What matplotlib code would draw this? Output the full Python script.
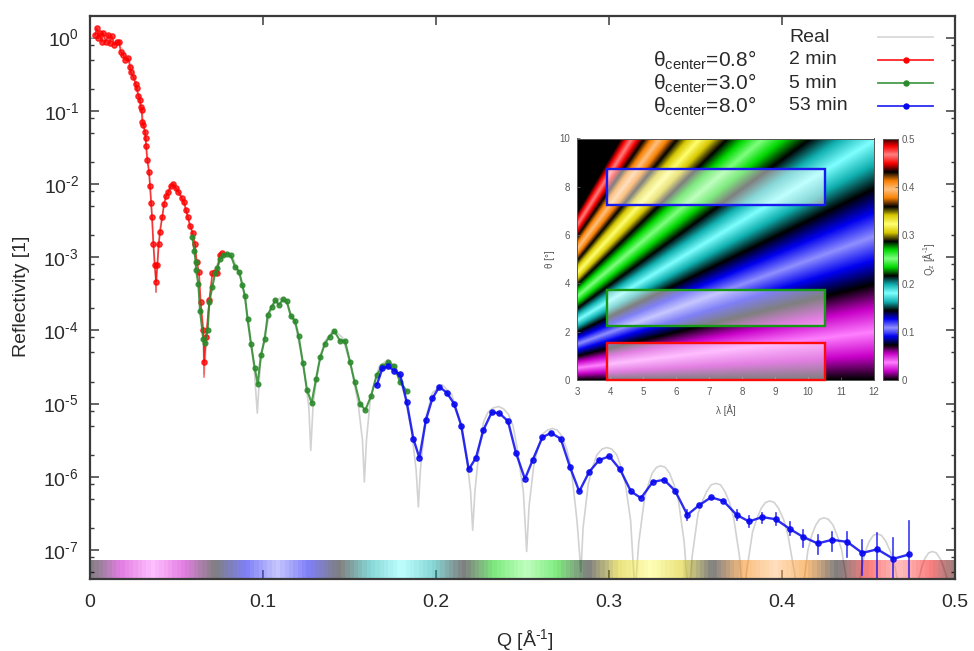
#!/usr/bin/env python3
"""Reflectivity curve with the theta/lambda coverage map as inset."""
import numpy as np
import matplotlib

matplotlib.use("Agg")
import matplotlib.pyplot as plt
from matplotlib.colors import LinearSegmentedColormap
from matplotlib.lines import Line2D
from matplotlib.patches import Rectangle
from matplotlib.ticker import LogLocator, NullFormatter

plt.rcParams["font.family"] = ["Liberation Sans", "DejaVu Sans"]
plt.rcParams["mathtext.fontset"] = "custom"
plt.rcParams["mathtext.rm"] = "Liberation Sans"
plt.rcParams["mathtext.default"] = "regular"

# all reflectivities are log10(R)
real_q = [0, .005, .01, .015, .02, .025, .03, .034, .036, .0375, .0382, .039, .0405, .043, .048, .053, .058,
          .0625, .065, .0661, .0675, .069, .072, .075, .079, .083, .088, .092, .095, .0967, .0985, .101, .105,
          .1095, .114, .119, .1235, .1265, .1276, .129, .132, .136, .141, .146, .151, .155, .1575, .1586, .1598,
          .162, .167, .172, .177, .182, .186, .1885, .1898, .191, .194, .198, .2035, .209, .214, .218, .22,
          .2212, .2225, .225, .2275, .23, .233, .236, .239, .242, .2445, .2465, .2505, .2524, .2538, .2565,
          .259, .2615, .2645, .2672, .27, .273, .2755, .278,
          .2815, .2838, .285, .288, .2905, .293, .296, .2987, .3015, .3045, .307, .3095, .3125, .315, .3172, .3205,
          .3228, .325, .3275, .3299, .3325, .335, .3375, .34, .3435, .3459, .348, .3515, .354, .3565, .359, .3617,
          .3645, .367, .3695, .372, .3755, .3775, .3795, .383, .3855, .388, .3905, .3931, .3955,
          .398, .401, .4035, .4075, .4098, .412, .415, .4172, .4195, .4218, .4243, .4268, .4295, .432, .4345,
          .4385, .4406, .443, .446, .448, .4505, .4528, .4551, .4575, .46, .4628, .4655, .4695, .4728, .476,
          .4785, .4805, .4825, .4847, .4869, .4892, .4915, .4935, .4955, .4985, .5]
real_r = [0, 0, -.02, -.06, -.19, -.42, -.98, -1.75, -2.45, -3.1, -3.47, -3.1, -2.6, -2.27, -1.98, -2.17, -2.55,
          -3.3, -4.0, -4.6, -4.1, -3.55, -3.2, -3.0, -2.93, -3.03, -3.35, -3.95, -4.55, -5.13, -4.45, -4.05, -3.68,
          -3.56, -3.63, -3.95, -4.5, -5.05, -5.64, -5.0, -4.5, -4.14, -3.99, -4.1, -4.5, -5.0, -5.5, -6.07, -5.5,
          -4.95, -4.5, -4.4, -4.5, -4.9, -5.4, -5.9, -6.41, -5.9, -5.2, -4.85, -4.74, -4.87, -5.25, -5.8, -6.2,
          -6.73, -6.2, -5.6, -5.25, -5.12, -5.06, -5.04, -5.07, -5.15, -5.3, -5.55, -6.2, -7.02, -6.4, -5.85,
          -5.6, -5.42, -5.36, -5.34, -5.36, -5.45, -5.62, -5.85,
          -6.6, -7.3, -6.7, -6.1, -5.87, -5.7, -5.62, -5.6, -5.62, -5.7, -5.87, -6.1, -6.6, -7.6, -6.9, -6.3,
          -6.1, -5.95, -5.87, -5.85, -5.87, -5.95, -6.1, -6.3, -6.9, -7.7, -7.1, -6.5, -6.33, -6.2, -6.11, -6.09,
          -6.11, -6.2, -6.34, -6.55, -7.1, -7.8, -7.3, -6.75, -6.57, -6.43, -6.35, -6.33, -6.35,
          -6.43, -6.59, -6.8, -7.35, -8.0, -7.55, -7.0, -6.8, -6.66, -6.58, -6.56, -6.58, -6.66, -6.81, -7.0,
          -7.6, -8.2, -7.8, -7.25, -7.03, -6.88, -6.8, -6.78, -6.8, -6.88, -7.03, -7.25, -7.8, -8.4, -8.0,
          -7.45, -7.26, -7.12, -7.04, -7.02, -7.04, -7.12, -7.24, -7.4, -7.9, -8.3]

red_q = [.0029, .0039, .0048, .0058, .0068, .0077, .0092, .0106, .0116, .0125, .0141, .0154, .0169, .0177, .0193,
         .0202, .0221, .0231, .0235, .025, .0264, .027, .0279, .0289, .0292, .0299, .0302, .0308, .0318, .0322,
         .0324, .0331, .0341, .0347, .0353, .0358, .0366, .0374, .0382, .0389, .0397, .0405, .0418, .0428, .0439,
         .0453, .0466, .0482, .0495, .051, .053, .0543, .0555, .0565, .0578, .0594, .0607, .0617, .063, .064,
         .0655, .0661, .0671, .069, .0707, .0723, .0732, .0751, .0765]
red_r = [.036, .127, -.01, .059, -.056, .059, -.056, .036, -.078, .022, -.101, -.056, -.064, -.193, -.238,
         -.306, -.283, -.397, -.465, -.534, -.634, -.693, -.798, -.852, -.952, -.989, -1.149, -1.194, -1.285, -1.376,
         -1.481, -1.672, -1.84, -2.027, -2.255, -2.447, -2.824, -3.107, -3.335, -3.107, -2.824, -2.651, -2.447,
         -2.273, -2.164, -2.105, -2.027, -2.0, -2.059, -2.105, -2.195, -2.241, -2.355, -2.447, -2.574, -2.665,
         -2.82, -3.06, -3.2, -3.61, -3.995, -4.43, -4.09, -3.585, -3.22, -3.2, -3.22, -2.97, -2.947]
red_err_q = [.0382, .0661]
red_err_lo = [-3.47, -4.63]
red_err_hi = [-3.2, -4.17]

green_q = [.0592, .0603, .0611, .0613, .0626, .0636, .0655, .0663, .068, .069, .0707, .0723, .0736, .0751, .0767,
           .079, .0813, .0838, .0863, .088, .0896, .0911, .0931, .0952, .0969, .0988, .101, .1027, .105, .1071,
           .1092, .1116, .1137, .116, .1185, .1206, .1231, .1254, .1281, .1306, .1331, .1358, .1385, .1412, .1445,
           .1474, .1503, .153, .1561, .1591, .1624, .1657, .169, .1724, .1757, .1792, .1831]
green_r = [-2.72, -2.91, -3.06, -3.175, -3.36, -3.735, -4.12, -4.176, -4.0, -3.61, -3.41, -3.22, -3.15, -3.03, -2.97,
           -2.956, -2.97, -3.13, -3.2, -3.38, -3.53, -3.85, -4.19, -4.51, -4.73, -4.34, -4.12, -3.79, -3.68, -3.585,
           -3.65, -3.575, -3.6, -3.8, -3.87, -4.08, -4.45, -4.81, -4.99, -4.67, -4.36, -4.18, -4.085, -4.01, -4.14,
           -4.145, -4.43, -4.71, -5.0, -5.09, -4.9, -4.61, -4.49, -4.43, -4.49, -4.7, -4.83]

blue_q = [.1657, .169, .1724, .1757, .1792, .1831, .1869, .1904, .1942, .1979, .2019, .2062, .2104, .2146, .2189,
          .2231, .2274, .2322, .2366, .2416, .2462, .2514, .2559, .2615, .2665, .2721, .2775, .2828, .2886, .2944,
          .3002, .3064, .3127, .3185, .3253, .3318, .3382, .3453, .352, .359, .3661, .3738, .3809, .3886, .3964,
          .4044, .4121, .4206, .4291, .4378, .4464, .4551, .4643, .4736]
blue_r = [-4.75, -4.52, -4.49, -4.55, -4.6, -4.98, -5.48, -5.74, -5.22, -4.93, -4.77, -4.85, -5.0, -5.3, -5.9,
          -5.74, -5.36, -5.12, -5.13, -5.24, -5.67, -6.03, -5.77, -5.46, -5.4, -5.48, -5.87, -6.2, -5.93, -5.77,
          -5.72, -5.9, -6.2, -6.29, -6.07, -6.04, -6.19, -6.52, -6.39, -6.28, -6.33, -6.52, -6.61, -6.55, -6.58,
          -6.71, -6.82, -6.91, -6.86, -6.89, -7.04, -6.99, -7.12, -7.06]
blue_err_q = [.3453, .3738, .3809, .3886, .3964, .4044, .4121, .4206, .4291, .4378, .4464, .4551, .4643, .4736]
blue_err_lo = [-6.59, -6.59, -6.69, -6.635, -6.66, -6.795, -6.955, -7.055, -7.02, -7.09, -7.34, -7.39, -7.4, -7.39]
blue_err_hi = [-6.45, -6.46, -6.535, -6.5, -6.5, -6.62, -6.73, -6.795, -6.75, -6.75, -6.86, -6.77, -6.84, -6.61]

# coverage boxes: lambda range and theta ranges
box_lam = [3.9, 10.5]
box_theta = [(0, 1.52), (2.23, 3.72), (7.24, 8.73)]

x_ticks = [0, 0.1, 0.2, 0.3, 0.4, 0.5]
x_labels = ["0", "0.1", "0.2", "0.3", "0.4", "0.5"]
y_exps = [0, -1, -2, -3, -4, -5, -6, -7]
legend_names = ["Real", "2 min", "5 min", "53 min"]
legend_theta = ["0.8", "3.0", "8.0"]

HUES = ["#c800c8", "#0000f0", "#10b0b0", "#00d800", "#d8c800", "#f88000", "#f80000"]
LIGHTS = ["#ff80ff", "#9090ff", "#80ffff", "#80ff80", "#ffff70", "#ffc080", "#ff8080"]
RED = "#ff0000"
GREEN = "#2b8a2b"
BLUE = "#0808f0"
FRAME = "#3a3a3a"
TEXT = "#2a2a2a"
INSET_TEXT = "#5a5a5a"

W, H = 974, 651


def box(left, top, right, bottom):
    return [left / W, 1 - bottom / H, (right - left) / W, (bottom - top) / H]


def fx(x):
    return x / W


def fy(y):
    return 1 - y / H


def exp_label(e):
    if e < 0:
        return f"10$^{{\\text{{-}}{-e}}}$"
    return f"10$^{{{e}}}$"


nodes = ["#000000"]
for hue, light in zip(HUES, LIGHTS):
    nodes += [hue, light, hue, "#000000"]
QMAX = 0.504
cmap = LinearSegmentedColormap.from_list("bands", nodes, N=1024)

fig = plt.figure(figsize=(W / 100, H / 100), dpi=100)
ax = fig.add_axes(box(90, 16, 955, 579))
YMIN, YMAX = 10 ** -7.396, 10 ** 0.295

ax.plot(real_q, 10.0 ** np.array(real_r), color="#d2d2d2", lw=1.2, zorder=2)
for q, lo, hi in zip(red_err_q, red_err_lo, red_err_hi):
    ax.plot([q, q], [10 ** lo, 10 ** hi], color=RED, lw=1.1, alpha=0.6, zorder=3)
ax.plot(red_q, 10.0 ** np.array(red_r), color=RED, lw=1.2, alpha=0.75, marker="o", ms=3.8,
        mec=RED, mfc=RED, zorder=4)
ax.plot(green_q, 10.0 ** np.array(green_r), color=GREEN, lw=1.5, alpha=0.85, marker="o", ms=3.4,
        mec=GREEN, mfc=GREEN, zorder=5)
for q, lo, hi in zip(blue_err_q, blue_err_lo, blue_err_hi):
    ax.plot([q, q], [10 ** lo, 10 ** hi], color=BLUE, lw=1.2, alpha=0.8, zorder=6)
ax.plot(blue_q, 10.0 ** np.array(blue_r), color=BLUE, lw=1.7, alpha=0.85, marker="o", ms=3.8,
        mec=BLUE, mfc=BLUE, zorder=7)

# colour strip along the bottom, same palette as the inset
strip_q = np.linspace(0, 0.5, 201)
ax.pcolormesh(strip_q, [YMIN, 10 ** -7.14], ((strip_q[:-1] + strip_q[1:]) / 2)[None, :],
              cmap=cmap, vmin=0, vmax=QMAX, alpha=0.5, shading="flat", linewidth=0, zorder=5.5,
              rasterized=True)

ax.set_xlim(0, 0.5)
ax.set_yscale("log")
ax.set_ylim(YMIN, YMAX)
ax.set_xticks(x_ticks, x_labels)
ax.set_yticks([10.0 ** e for e in y_exps], [exp_label(e) for e in y_exps])
ax.yaxis.set_minor_locator(LogLocator(base=10, subs=[2, 5, 8], numticks=20))
ax.yaxis.set_minor_formatter(NullFormatter())
ax.tick_params(which="major", direction="in", top=True, right=True, length=6.5, width=1.1, color=FRAME,
               labelcolor=TEXT, labelsize=14)
ax.tick_params(axis="x", which="major", pad=11)
ax.tick_params(axis="y", which="major", pad=8)
ax.tick_params(which="minor", direction="in", left=True, right=True, length=3, width=1, color=FRAME)
for spine in ax.spines.values():
    spine.set_color(FRAME)
    spine.set_linewidth(1.6)
    spine.set_zorder(10)

fig.text(fx(22), fy(296), "Reflectivity [1]", rotation=90, ha="center", va="center", fontsize=14, color=TEXT)
fig.text(fx(525), fy(640), "Q [Å$^{\\text{-}1}$]", ha="center", va="center", fontsize=14, color=TEXT)

# legend, laid out by hand as in the original
rows = [37, 60, 83, 106]
for name, y in zip(legend_names, rows):
    fig.text(fx(789), fy(y), name, ha="left", va="center", fontsize=14, color=TEXT)
for value, y in zip(legend_theta, rows[1:]):
    fig.text(fx(653), fy(y), f"θ$_{{center}}$={value}°", ha="left", va="center", fontsize=15, color=TEXT)
styles = [("#d2d2d2", None), (RED, "o"), (GREEN, "o"), (BLUE, "o")]
for (color, marker), y in zip(styles, rows):
    fig.add_artist(Line2D([fx(878), fx(933)], [fy(y), fy(y)], color=color, lw=1.3, alpha=0.85))
    if marker:
        fig.add_artist(Line2D([fx(906)], [fy(y)], color=color, marker=marker, ms=3.6))

# inset map: Qz = 4 pi sin(theta) / lambda is the definition of the field, not read data
inset = fig.add_axes(box(577, 138.5, 874, 380))
lam_grid = np.linspace(3, 12, 601)
theta_grid = np.linspace(0, 10, 601)
qz = 4 * np.pi * np.sin(np.radians(theta_grid))[:, None] / lam_grid[None, :]
inset.imshow(qz, origin="lower", extent=[3, 12, 0, 10], aspect="auto", cmap=cmap, vmin=0, vmax=QMAX,
             interpolation="bilinear")
for (t0, t1), color in zip(box_theta, ["#ff0a0a", "#159a15", "#1818f0"]):
    inset.add_patch(Rectangle((box_lam[0], t0), box_lam[1] - box_lam[0], t1 - t0, facecolor=(1, 1, 1, 0.5),
                              edgecolor=color, lw=1.7, zorder=3, clip_on=False))
inset.set_xticks(range(3, 13))
inset.set_yticks(range(0, 11, 2))
inset.tick_params(direction="in", length=2.5, width=0.6, color="#666666", labelcolor=INSET_TEXT,
                  labelsize=7, pad=5)
inset.set_xlabel("λ [Å]", fontsize=7, color=INSET_TEXT, labelpad=5)
inset.set_ylabel("θ [°]", fontsize=7, color=INSET_TEXT, labelpad=3)
for spine in inset.spines.values():
    spine.set_color("#555555")
    spine.set_linewidth(0.7)

cbar = fig.add_axes(box(882.5, 139, 897.5, 380))
bar_q = np.linspace(0, 0.5, 501)
cbar.imshow(bar_q[:, None], origin="lower", extent=[0, 1, 0, 0.5], aspect="auto", cmap=cmap, vmin=0, vmax=QMAX)
cbar.set_xticks([])
cbar.yaxis.tick_right()
cbar.set_yticks([0, 0.1, 0.2, 0.3, 0.4, 0.5], ["0", "0.1", "0.2", "0.3", "0.4", "0.5"])
cbar.tick_params(direction="in", length=2, width=0.6, color="#666666", labelcolor=INSET_TEXT, labelsize=7, pad=3)
cbar.yaxis.set_label_position("right")
cbar.set_ylabel("Q$_z$ [Å$^{\\text{-}1}$]", fontsize=7, color=INSET_TEXT, labelpad=4)
for spine in cbar.spines.values():
    spine.set_color("#555555")
    spine.set_linewidth(0.7)

fig.savefig("out.png", dpi=100, facecolor="white")
